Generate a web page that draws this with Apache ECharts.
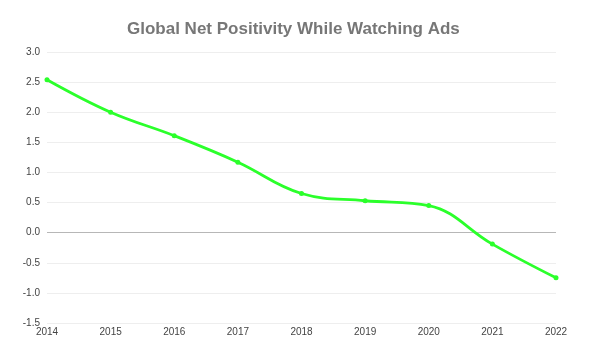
<!DOCTYPE html>
<html><head><meta charset="utf-8">
<script src="https://cdn.jsdelivr.net/npm/echarts@6/dist/echarts.min.js"></script>
<style>html,body{margin:0;padding:0;background:#fff}#c{width:600px;height:363px}</style>
</head><body><div id="c"></div>
<script>
var categories = ['2014','2015','2016','2017','2018','2019','2020','2021','2022'];
var values = [2.54, 2.00, 1.61, 1.17, 0.65, 0.53, 0.45, -0.19, -0.75];
var yMin = -1.5, yMax = 3.0, yStep = 0.5;
var gridColors = ['#eeeeee','#eeeeee','#eeeeee','#b7b7b7','#eeeeee','#eeeeee','#eeeeee','#eeeeee','#eeeeee','#eeeeee'];

var chart = echarts.init(document.getElementById('c'));
chart.setOption({
  animation: false,
  title: {
    text: 'Global Net Positivity While Watching Ads',
    left: 122, top: 16,
    textStyle: { fontFamily: 'Liberation Sans, Arial, sans-serif', fontSize: 17, fontWeight: 'bold', color: '#777777' }
  },
  grid: { left: 47, right: 44, top: 52, bottom: 40 },
  xAxis: {
    type: 'category', data: categories, boundaryGap: false,
    axisLine: { show: false }, axisTick: { show: false },
    splitLine: { show: false },
    axisLabel: { color: '#444', fontSize: 10, fontFamily: 'Liberation Sans, Arial, sans-serif', margin: 4 }
  },
  yAxis: {
    type: 'value', min: yMin, max: yMax, interval: yStep,
    axisLine: { show: false }, axisTick: { show: false },
    axisLabel: { color: '#444', fontSize: 10, fontFamily: 'Liberation Sans, Arial, sans-serif', margin: 7,
      formatter: function (v) { return v.toFixed(1); } },
    splitLine: { show: true, lineStyle: { color: gridColors, width: 1 } }
  },
  series: [{
    type: 'line', data: values, smooth: 0.4,
    symbol: 'circle', symbolSize: 5,
    lineStyle: { color: '#2bff2b', width: 2.8 },
    itemStyle: { color: '#2bff2b' }
  }]
});
</script></body></html>
